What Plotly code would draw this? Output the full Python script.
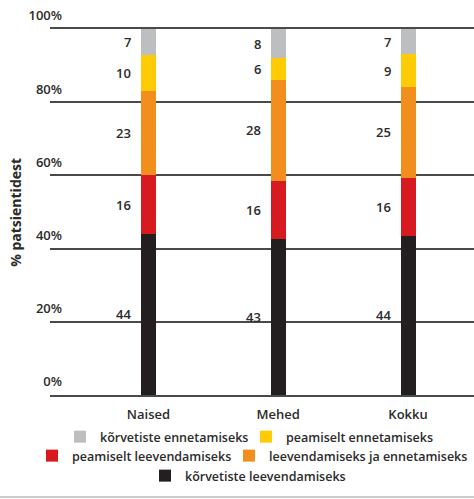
import plotly.graph_objects as go

categories = ["Naised", "Mehed", "Kokku"]
series_names = [
    "kõrvetiste leevendamiseks",
    "peamiselt leevendamiseks",
    "leevendamiseks ja ennetamiseks",
    "peamiselt ennetamiseks",
    "kõrvetiste ennetamiseks",
]
leevendamiseks = [44, 43, 44]
peamiselt_leevendamiseks = [16, 16, 16]
leev_ja_ennet = [23, 28, 25]
peamiselt_ennetamiseks = [10, 6, 9]
ennetamiseks = [7, 8, 7]
series_values = [leevendamiseks, peamiselt_leevendamiseks, leev_ja_ennet,
                 peamiselt_ennetamiseks, ennetamiseks]
colors = ["#231F20", "#D71920", "#F28E1E", "#FFCB05", "#BCBEC0"]
y_ticks = [0, 20, 40, 60, 80, 100]
y_ticktext = ["0%", "20%", "40%", "60%", "80%", "100%"]

FONT = "Open Sans"
TXT = "#2b2b2b"
PLOT_L, PLOT_W, PLOT_B, PLOT_H = 50, 424, 395, 366

# legend placement (pixel: left of text, centre row y)
legend_ids = ["legend5", "legend3", "legend4", "legend2", "legend"]
legend_px = {"legend": (98, 437), "legend2": (284, 437),
             "legend3": (70, 456), "legend4": (267, 456),
             "legend5": (183, 476)}

fig = go.Figure()
for name, vals, col, lg in zip(series_names, series_values, colors, legend_ids):
    fig.add_trace(go.Bar(
        x=categories, y=vals, name=name, marker_color=col, marker_line_width=0,
        width=0.115, legend=lg, showlegend=True,
    ))

# value labels to the left of each segment
annotations = []
for ci, cat in enumerate(categories):
    total = sum(v[ci] for v in series_values)
    cum = 0.0
    for vals in series_values:
        pct = vals[ci] / total * 100
        mid = cum + pct / 2
        cum += pct
        annotations.append(dict(
            x=cat, y=mid, xref="x", yref="y", text=str(vals[ci]),
            showarrow=False, xanchor="right", yanchor="middle", xshift=-15,
            font=dict(family=FONT, size=13, color=TXT, weight=600),
        ))

annotations.append(dict(
    x=-0.083, y=0.5, xref="paper", yref="paper", text="% patsientidest",
    textangle=-90, showarrow=False, xanchor="center", yanchor="middle",
    font=dict(family=FONT, size=14, color=TXT, weight=700),
))

legends = {}
for lid, (px, py) in legend_px.items():
    legends[lid] = dict(
        orientation="h", xanchor="left", x=(px - 38 - PLOT_L) / PLOT_W,
        yanchor="middle", y=(PLOT_B - py) / PLOT_H,
        font=dict(family=FONT, size=12.5, color=TXT, weight=600),
        bgcolor="rgba(0,0,0,0)", itemclick=False, itemdoubleclick=False,
        visible=True,
    )

fig.update_layout(
    width=474, height=499,
    margin=dict(l=PLOT_L, r=0, t=29, b=104),
    plot_bgcolor="white", paper_bgcolor="white",
    barmode="stack", barnorm="percent",
    showlegend=True,
    annotations=annotations,
    **legends,
    xaxis=dict(
        range=[-0.758, 2.508], showgrid=False, zeroline=False,
        showline=True, mirror=True, linecolor="#4a4a4a", linewidth=1.5,
        tickfont=dict(family=FONT, size=13, color=TXT, weight=600),
        ticks="", ticklabelstandoff=7,
    ),
    yaxis=dict(
        range=[0, 100], tickvals=y_ticks, ticktext=y_ticktext,
        showgrid=True, gridcolor="#4a4a4a", gridwidth=1.5, zeroline=False,
        showline=False, ticks="",
        ticklabelposition="outside top", ticklabelstandoff=-13, ticklabelshift=-4,
        tickfont=dict(family=FONT, size=13, color=TXT, weight=600),
    ),
    shapes=[dict(type="line", xref="paper", yref="paper",
                 x0=-PLOT_L / PLOT_W, x1=1, y0=-0.2787, y1=-0.2787,
                 line=dict(color="#cccccc", width=2))],
)

fig.write_html("out.html")
